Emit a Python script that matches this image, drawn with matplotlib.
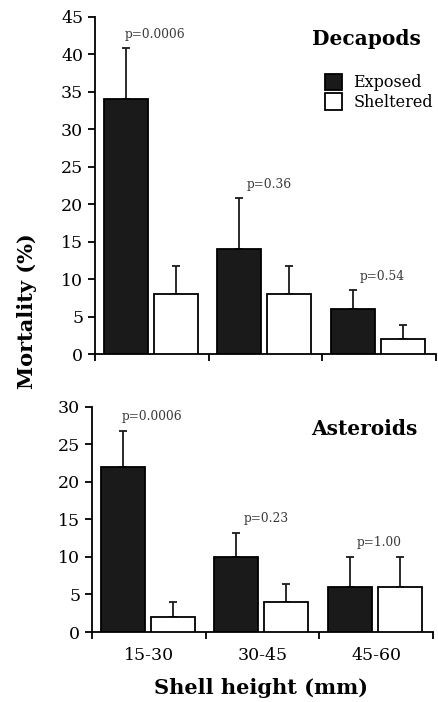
import matplotlib
matplotlib.use("Agg")
import matplotlib.pyplot as plt
import numpy as np

categories = ["15-30", "30-45", "45-60"]

dec_exposed = [34, 14, 6]
dec_exposed_err = [6.8, 6.8, 2.5]
dec_sheltered = [8, 8, 2]
dec_sheltered_err = [3.7, 3.7, 1.9]
dec_p = ["p=0.0006", "p=0.36", "p=0.54"]

ast_exposed = [22, 10, 6]
ast_exposed_err = [4.8, 3.2, 4.0]
ast_sheltered = [2, 4, 6]
ast_sheltered_err = [2.0, 2.4, 4.0]
ast_p = ["p=0.0006", "p=0.23", "p=1.00"]

plt.rcParams['font.family'] = ['DejaVu Serif']

fig = plt.figure(figsize=(4.38, 7.02), dpi=100)
ax1 = fig.add_axes([0.2169, 0.4957, 0.7785, 0.4801])
ax2 = fig.add_axes([0.2100, 0.0997, 0.7785, 0.3210])

W = 0.385
OFF_E = 0.27
OFF_S = 0.71
LW = 1.3


def draw(ax, exp, experr, sh, sherr, plabels, ymax, title, legend):
    x = np.arange(len(categories))
    ax.bar(x + OFF_E, exp, W, color='#1a1a1a', edgecolor='black', linewidth=LW, zorder=3, label='Exposed')
    ax.bar(x + OFF_S, sh, W, color='white', edgecolor='black', linewidth=LW, zorder=3, label='Sheltered')
    ax.errorbar(x + OFF_E, exp, yerr=[np.zeros(3), experr], fmt='none', ecolor='#1a1a1a',
                elinewidth=LW, capsize=3, capthick=LW, zorder=2)
    ax.errorbar(x + OFF_S, sh, yerr=[np.zeros(3), sherr], fmt='none', ecolor='#1a1a1a',
                elinewidth=LW, capsize=3, capthick=LW, zorder=2)
    tops = [max(e + ee, s + se) for e, ee, s, se in zip(exp, experr, sh, sherr)]
    for i, (t, p) in enumerate(zip(tops, plabels)):
        ax.text(i + 0.53, t + 1.0, p, ha='center', va='bottom', fontsize=8.8, color='#3a3a3a')
    ax.set_xlim(0, 3)
    ax.set_ylim(0, ymax)
    ax.set_xticks([0, 1, 2, 3])
    ax.set_xticklabels([])
    ax.set_xticks(x + 0.5, minor=True)
    ax.tick_params(axis='x', which='minor', length=0)
    ax.tick_params(axis='both', which='major', direction='out', length=5, width=LW, labelsize=12.5)
    ax.set_yticks(np.arange(0, ymax + 1, 5))
    for s in ['top', 'right']:
        ax.spines[s].set_visible(False)
    for s in ['left', 'bottom']:
        ax.spines[s].set_linewidth(LW)
    ax.text(0.955, 0.935 if legend else 0.9, title, transform=ax.transAxes, ha='right', va='center',
            fontsize=14.5, fontweight='bold')
    if legend:
        ax.legend(loc='upper right', bbox_to_anchor=(1.02, 0.86), frameon=False, fontsize=11.5,
                  handlelength=1.1, handleheight=1.2, handletextpad=0.7, labelspacing=0.12,
                  borderaxespad=0.2)


draw(ax1, dec_exposed, dec_exposed_err, dec_sheltered, dec_sheltered_err, dec_p, 45, "Decapods", True)
draw(ax2, ast_exposed, ast_exposed_err, ast_sheltered, ast_sheltered_err, ast_p, 30, "Asteroids", False)

ax2.set_xticklabels(categories, minor=True, fontsize=12.5)
ax2.tick_params(axis='x', which='minor', pad=11)
ax1.set_xticklabels([], minor=True)

fig.text(0.062, 1 - 311 / 702, "Mortality (%)", rotation=90, ha='center', va='center',
         fontsize=15, fontweight='bold')
fig.text(261 / 438, 1 - 688 / 702, "Shell height (mm)", ha='center', va='center',
         fontsize=15, fontweight='bold')

fig.savefig("out.png", dpi=100)
